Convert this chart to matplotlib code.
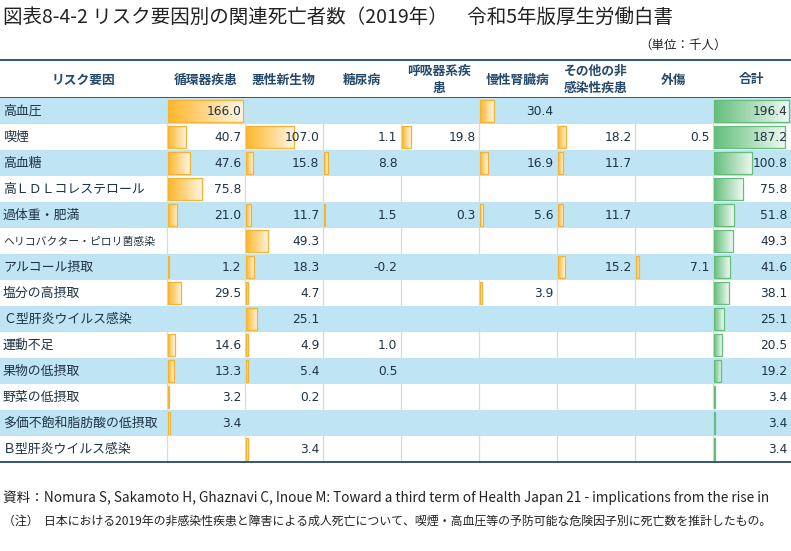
import numpy as np
import matplotlib
matplotlib.use('Agg')
from matplotlib import pyplot as plt
from matplotlib.colors import LinearSegmentedColormap
from matplotlib.patches import Rectangle

plt.rcParams['font.family'] = ['Noto Sans CJK JP', 'DejaVu Sans']

'''table data (千人), None = blank cell'''
title = '図表8-4-2 リスク要因別の関連死亡者数（2019年）　令和5年版厚生労働白書'
unit = '（単位：千人）'
headers = ['リスク要因', '循環器疾患', '悪性新生物', '糖尿病', '呼吸器系疾\n患',
           '慢性腎臓病', 'その他の非\n感染性疾患', '外傷', '合計']
risks = ['高血圧', '喫煙', '高血糖', '高ＬＤＬコレステロール', '過体重・肥満',
         'ヘリコバクター・ピロリ菌感染', 'アルコール摂取', '塩分の高摂取',
         'Ｃ型肝炎ウイルス感染', '運動不足', '果物の低摂取', '野菜の低摂取',
         '多価不飽和脂肪酸の低摂取', 'Ｂ型肝炎ウイルス感染']
circulatory = [166.0, 40.7, 47.6, 75.8, 21.0, None, 1.2, 29.5, None, 14.6, 13.3, 3.2, 3.4, None]
cancer = [None, 107.0, 15.8, None, 11.7, 49.3, 18.3, 4.7, 25.1, 4.9, 5.4, 0.2, None, 3.4]
diabetes = [None, 1.1, 8.8, None, 1.5, None, -0.2, None, None, 1.0, 0.5, None, None, None]
respiratory = [None, 19.8, None, None, 0.3, None, None, None, None, None, None, None, None, None]
kidney = [30.4, None, 16.9, None, 5.6, None, None, 3.9, None, None, None, None, None, None]
other_ncd = [None, 18.2, 11.7, None, 11.7, None, 15.2, None, None, None, None, None, None, None]
injury = [None, 0.5, None, None, None, None, 7.1, None, None, None, None, None, None, None]
total = [196.4, 187.2, 100.8, 75.8, 51.8, 49.3, 41.6, 38.1, 25.1, 20.5, 19.2, 3.4, 3.4, 3.4]
source = '資料：Nomura S, Sakamoto H, Ghaznavi C, Inoue M: Toward a third term of Health Japan 21 - implications from the rise in'
note = '（注）  日本における2019年の非感染性疾患と障害による成人死亡について、喫煙・高血圧等の予防可能な危険因子別に死亡数を推計したもの。'

columns = [circulatory, cancer, diabetes, respiratory, kidney, other_ncd, injury]

'''layout in pixels'''
W, H = 791, 551
label_w = 166.5
col_w = 78.0
head_top, head_bot = 60, 98
row_h = 26.0
navy = '#24496b'
text_c = '#1e3344'
blue = '#bfe4f3'

orange = LinearSegmentedColormap.from_list('o', ['#ffb628', '#fff6e6'])
green = LinearSegmentedColormap.from_list('g', ['#63be7b', '#f0f9f2'])
grad = np.linspace(0, 1, 256).reshape(1, -1)

fig = plt.figure(figsize=(W / 100, H / 100), dpi=100)
ax = fig.add_axes([0, 0, 1, 1])
ax.set_xlim(0, W)
ax.set_ylim(H, 0)
ax.axis('off')

ax.text(3, 17, title, fontsize=14.0, va='center', ha='left', color='#222222')
ax.text(727, 45, unit, fontsize=9, va='center', ha='right', color='#222222')

# header
ax.plot([0, W], [head_top, head_top], color=navy, lw=1.3)
ax.plot([0, W], [head_bot, head_bot], color=navy, lw=1.3)
for k, h in enumerate(headers):
    cx = label_w / 2 if k == 0 else label_w + col_w * (k - 1) + col_w / 2
    ax.text(cx, (head_top + head_bot) / 2 + 1, h, fontsize=9.2, fontweight='bold',
            ha='center', va='center', color=navy, linespacing=1.45)

n = len(risks)
bottom = head_bot + n * row_h

# vertical grid lines, then blue row fills over them
for k in range(len(columns) + 1):
    x = label_w + col_w * k
    ax.plot([x, x], [head_bot, bottom], color='#d9d9d9', lw=0.9, zorder=1)
for i in range(n):
    y0 = head_bot + i * row_h
    if i % 2 == 0:
        ax.add_patch(Rectangle((0, y0), W, row_h, facecolor=blue, edgecolor='none', zorder=2))

vmax = max(v for col in columns for v in col if v is not None)
tmax = max(total)


def cell(x_left, y0, v, vm, cmap, edge):
    if v is None:
        return
    length = (col_w - 3) * v / vm
    if length > 0.53:
        ax.imshow(grad, cmap=cmap, extent=(x_left + 1.5, x_left + 1.5 + length, y0 + row_h - 2, y0 + 2),
                  aspect='auto', interpolation='bilinear', zorder=3)
        ax.add_patch(Rectangle((x_left + 1.5, y0 + 2), length, row_h - 4, facecolor='none',
                               edgecolor=edge, lw=0.9, zorder=4))
    ax.text(x_left + col_w - 3, y0 + row_h / 2 + 0.5, f'{v:.1f}', fontsize=8.8, family='DejaVu Sans',
            ha='right', va='center', color=text_c, zorder=5)


for i, name in enumerate(risks):
    y0 = head_bot + i * row_h
    fs = 7.8 if len(name) > 13 else 9.3
    ax.text(3, y0 + row_h / 2 + 0.5, name, fontsize=fs, ha='left', va='center', color=text_c, zorder=5)
    for k, col in enumerate(columns):
        cell(label_w + col_w * k, y0, col[i], vmax, orange, '#f5b335')
    cell(label_w + col_w * len(columns), y0, total[i], tmax, green, '#63be7b')

ax.plot([0, W], [bottom, bottom], color=navy, lw=1.3, zorder=6)

ax.text(3, 498, source, fontsize=9.8, ha='left', va='center', color='#222222')
ax.text(3, 521, note, fontsize=8.6, ha='left', va='center', color='#222222')

ax.set_xlim(0, W)
ax.set_ylim(H, 0)
fig.savefig('out.png', dpi=100)
